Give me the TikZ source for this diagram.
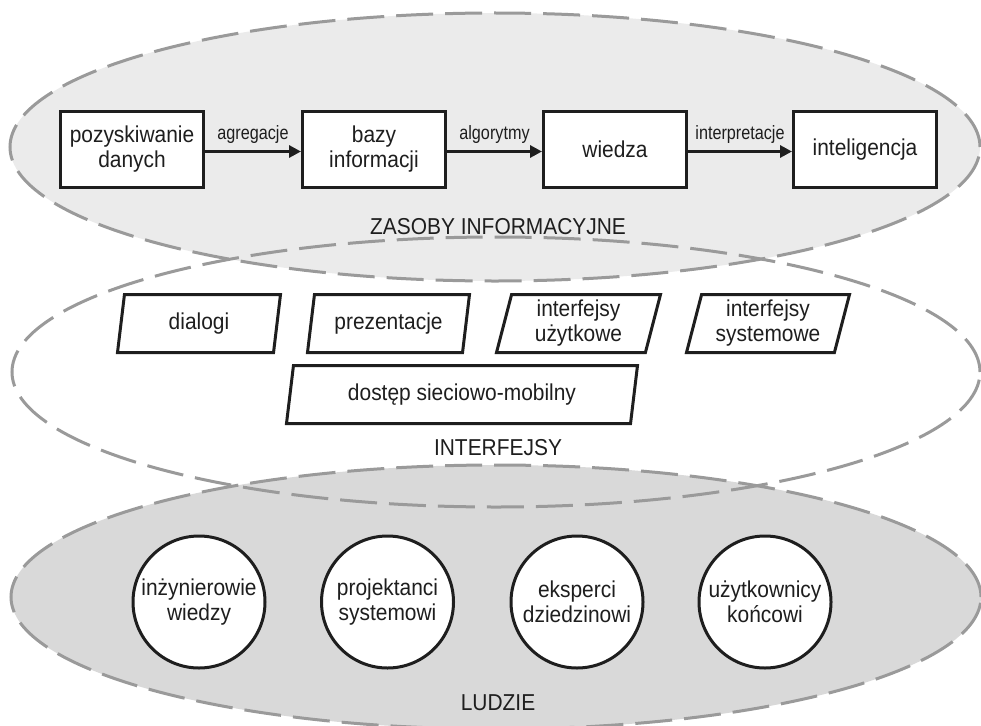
\documentclass[tikz,border=0pt]{standalone}
\usepackage{fontspec}
\setmainfont{Liberation Sans}
\newfontfamily\bodyface[FakeStretch=0.91]{Liberation Sans}
\newfontfamily\labelface[FakeStretch=0.84]{Liberation Sans}
\usetikzlibrary{shapes.geometric,arrows.meta}
\definecolor{ink}{HTML}{1E1E1E}
\definecolor{dashgray}{HTML}{9A9A9A}
\definecolor{layertop}{HTML}{EBEBEB}
\definecolor{layerbot}{HTML}{D9D9D9}
\tikzset{
  txt/.style={font=\bodyface\fontsize{23}{25}\selectfont, text=ink, align=center},
  lbl/.style={font=\labelface\fontsize{19.3}{21}\selectfont, text=ink},
  layer/.style={draw=dashgray, line width=3pt, dash pattern=on 37pt off 12pt},
  stagebox/.style={txt, draw=ink, fill=white, line width=3pt, rectangle,
    minimum width=143pt, minimum height=76pt, inner sep=0pt},
  channel/.style={txt, draw=ink, fill=white, line width=3pt, trapezium,
    trapezium left angle=72, trapezium right angle=108,
    trapezium stretches body, minimum height=58pt, inner sep=0pt},
  person/.style={txt, draw=ink, fill=white, line width=3pt, circle,
    minimum size=132pt, inner sep=0pt},
  flow/.style={draw=ink, line width=3pt, -{Triangle[length=12pt,width=12pt]}},
}
\begin{document}
\begin{tikzpicture}[x=1pt,y=-1pt]
\useasboundingbox (0,0) rectangle (981,725);
\clip (0,0) rectangle (981,725);

% layer fills
\fill[white]    (496,372) ellipse [x radius=484pt, y radius=135pt];
\fill[layertop] (495,147) ellipse [x radius=485pt, y radius=134pt];
\fill[layerbot] (496,597) ellipse [x radius=485pt, y radius=132pt];
% layer outlines
\draw[layer] (496,372) ellipse [x radius=484pt, y radius=135pt];
\draw[layer] (495,147) ellipse [x radius=485pt, y radius=134pt];
\draw[layer] (496,597) ellipse [x radius=485pt, y radius=132pt];

% information resources
\node[stagebox] (dane)   at (132,149.5) {pozyskiwanie\\danych};
\node[stagebox] (bazy)   at (374,149.5) {bazy\\informacji};
\node[stagebox] (wiedza) at (615,149.5) {wiedza};
\node[stagebox] (intel)  at (865,149.5) {inteligencja};
\draw[flow] ([yshift=-2pt]dane.east) -- node[lbl, above=3pt] {agregacje} ([yshift=-2pt]bazy.west);
\draw[flow] ([yshift=-2pt]bazy.east) -- node[lbl, above=3pt] {algorytmy} ([yshift=-2pt]wiedza.west);
\draw[flow] ([yshift=-2pt]wiedza.east) -- node[lbl, above=3pt] {interpretacje} ([yshift=-2pt]intel.west);
\node[txt] (zasoby) at (498,227) {ZASOBY INFORMACYJNE};

% interfaces
\node[channel, minimum width=163pt] (dialogi) at (199,323.5) {dialogi};
\node[channel, minimum width=162pt] (prez)    at (388.5,323.5) {prezentacje};
\node[channel, minimum width=164pt] (uzyt)    at (578.5,323.5) {interfejsy\\użytkowe};
\node[channel, minimum width=163pt] (sys)     at (768,323.5) {interfejsy\\systemowe};
\node[channel, minimum width=351pt] (siec)    at (462,394.5) {dostęp sieciowo-mobilny};
\node[txt] (interfejsy) at (498,448) {INTERFEJSY};

% people
\node[person] (inz)  at (199,602)   {inżynierowie\\wiedzy};
\node[person] (proj) at (387.5,602) {projektanci\\systemowi};
\node[person] (eksp) at (577,602)   {eksperci\\dziedzinowi};
\node[person] (uzk)  at (765,602)   {użytkownicy\\końcowi};
\node[txt] (ludzie) at (498,703) {LUDZIE};
\end{tikzpicture}
\end{document}
